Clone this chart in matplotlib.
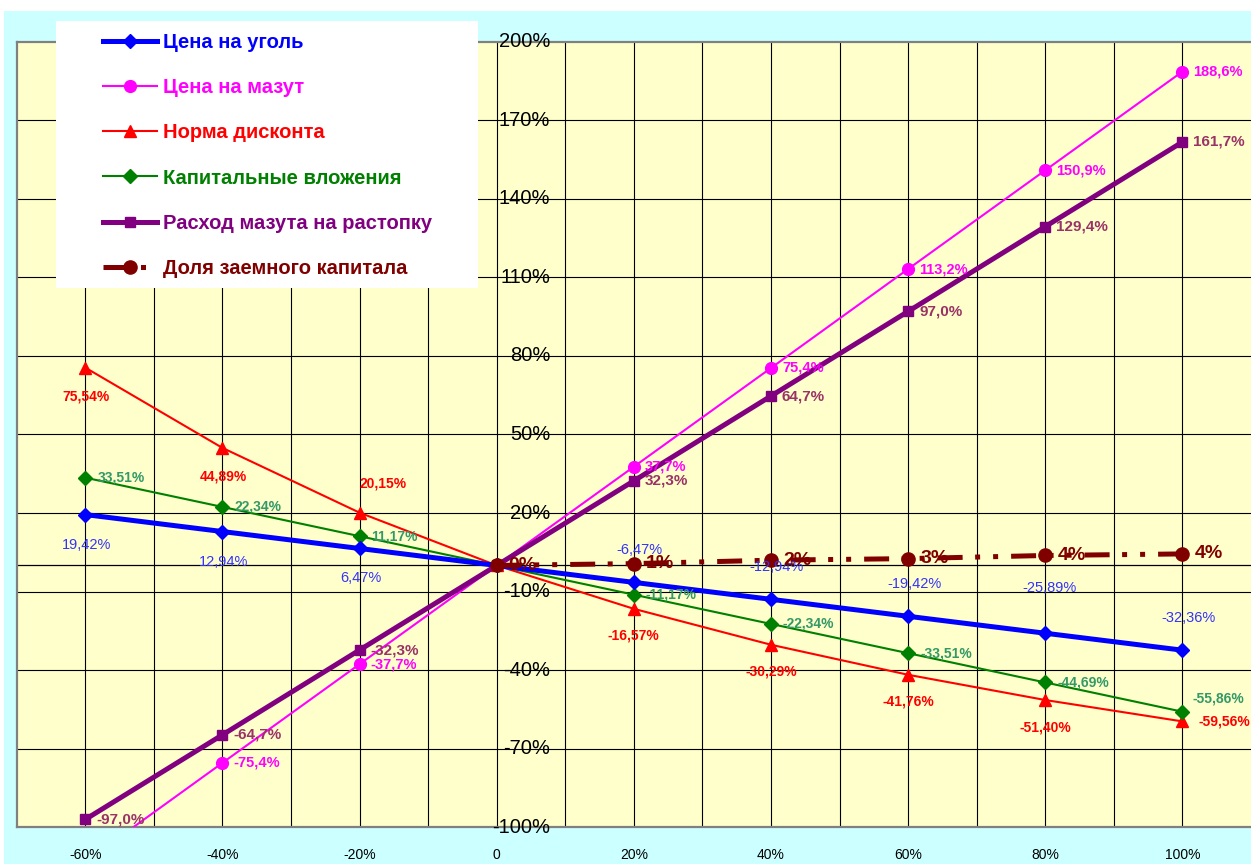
import matplotlib
matplotlib.use("Agg")
import matplotlib.pyplot as plt
from matplotlib.patches import Rectangle

plt.rcParams['font.family'] = ['Liberation Sans', 'DejaVu Sans']

# Change of the input parameter, %
changes = [-60, -40, -20, 0, 20, 40, 60, 80, 100]

# Resulting change of the indicator, %
coal_price = [19.42, 12.94, 6.47, 0.0, -6.47, -12.94, -19.42, -25.89, -32.36]
fuel_oil_price = [-113.2, -75.4, -37.7, 0.0, 37.7, 75.4, 113.2, 150.9, 188.6]
discount_rate = [75.54, 44.89, 20.15, 0.0, -16.57, -30.29, -41.76, -51.40, -59.56]
capital_invest = [33.51, 22.34, 11.17, 0.0, -11.17, -22.34, -33.51, -44.69, -55.86]
kindling_oil = [-97.0, -64.7, -32.3, 0.0, 32.3, 64.7, 97.0, 129.4, 161.7]
debt_share = [None, None, None, 0.0, 0.7, 2.0, 2.6, 3.8, 4.4]

series_names = [
    "Цена на уголь",
    "Цена на мазут",
    "Норма дисконта",
    "Капитальные вложения",
    "Расход мазута на растопку",
    "Доля заемного капитала",
]

x_ticks = [-60, -40, -20, 0, 20, 40, 60, 80, 100]
x_ticklabels = ["-60%", "-40%", "-20%", "0", "20%", "40%", "60%", "80%", "100%"]
y_ticks = [200, 170, 140, 110, 80, 50, 20, -10, -40, -70, -100]
y_ticklabels = ["200%", "170%", "140%", "110%", "80%", "50%", "20%",
                "-10%", "-40%", "-70%", "-100%"]

W, H = 1251, 864
fig = plt.figure(figsize=(W / 100, H / 100), dpi=100)
fig.patch.set_facecolor("#CCFFFF")
# white margins at the top and left edges
fig.patches.append(Rectangle((0, 1 - 11 / H), 1, 11 / H, transform=fig.transFigure,
                             facecolor="white", edgecolor="none", zorder=0))
fig.patches.append(Rectangle((0, 0), 4 / W, 1, transform=fig.transFigure,
                             facecolor="white", edgecolor="none", zorder=0))

ax_left, ax_right = 16.7, 1251.0
ax_top, ax_bottom = 41.7, 827.3
ax = fig.add_axes([ax_left / W, 1 - ax_bottom / H,
                   (ax_right - ax_left) / W, (ax_bottom - ax_top) / H])
ax.set_facecolor("#FFFFCC")
ax.set_xlim(-70, 110)
ax.set_ylim(-100, 200)

# grid
for gx in range(-60, 101, 10):
    ax.axvline(gx, color="black", lw=0.8, zorder=1)
for gy in range(-70, 200, 30):
    ax.axhline(gy, color="black", lw=0.8, zorder=1)
ax.axhline(0, color="black", lw=0.9, zorder=1)

for side in ["left", "top", "bottom"]:
    ax.spines[side].set_color("#808080")
    ax.spines[side].set_linewidth(1.6)
ax.spines["right"].set_visible(False)

ax.set_xticks(x_ticks)
ax.set_xticklabels(x_ticklabels, fontsize=10)
ax.tick_params(axis="x", length=0, pad=15)
ax.set_yticks([])
for yv, yl in zip(y_ticks, y_ticklabels):
    ax.text(7.8, yv, yl, ha="right", va="center", fontsize=14.5, color="black",
            zorder=6)


def fmt(v, nd):
    return (f"{v:.{nd}f}%").replace(".", ",")


def plot_series(values, label, color, lw, marker, ms, label_color, nd, fsize,
                weight, offsets, dashes=None, z=3):
    xs = [x for x, v in zip(changes, values) if v is not None]
    ys = [v for v in values if v is not None]
    kw = {}
    if dashes is not None:
        kw["dashes"] = dashes
    line, = ax.plot(xs, ys, color=color, lw=lw, marker=marker, ms=ms,
                    markeredgecolor=color, markerfacecolor=color, label=label,
                    zorder=z, **kw)
    for x, y in zip(xs, ys):
        if x == 0 and nd != 0:
            continue
        if y < -100 or y > 200:
            continue
        dx, dy, ha = offsets(x)
        ax.annotate(fmt(y, nd), (x, y), xytext=(dx, dy), textcoords="offset pixels",
                    ha=ha, va="center", fontsize=fsize, color=label_color,
                    fontweight=weight, zorder=7, annotation_clip=False)
    return line


def coal_off(x):
    if x < 0:
        return (1, -30, "center")
    if x == 80:
        return (4, 45, "center")
    return (6, 32, "center")


def disc_off(x):
    if x == -20:
        return (24, 29, "center")
    if x == 100:
        return (16, 0, "left")
    if x < 0:
        return (1, -29, "center")
    return (0, -27, "center")


def cap_off(x):
    if x == 100:
        return (10, 13, "left")
    return (12, 0, "left")


def right_off(x):
    return (11, 0, "left")


def debt_off(x):
    return (12, 0, "left")


h1 = plot_series(coal_price, series_names[0], "#0000FF", 3.6, "D", 7.5,
                 "#3333FF", 2, 10.5, "normal", coal_off, z=4)
h2 = plot_series(fuel_oil_price, series_names[1], "#FF00FF", 1.5, "o", 8.5,
                 "#FF00FF", 1, 10.5, "bold", right_off, z=3)
h3 = plot_series(discount_rate, series_names[2], "#FF0000", 1.5, "^", 8.5,
                 "#FF0000", 2, 10, "bold", disc_off, z=3)
h4 = plot_series(capital_invest, series_names[3], "#008000", 1.5, "D", 7,
                 "#339966", 2, 10, "bold", cap_off, z=3)
h5 = plot_series(kindling_oil, series_names[4], "#800080", 3.6, "s", 7.5,
                 "#993366", 1, 11, "bold", right_off, z=4)
h6 = plot_series(debt_share, series_names[5], "#800000", 3.6, "o", 9.5,
                 "#800000", 0, 14, "bold", debt_off,
                 dashes=(5, 2.5, 1, 2.6, 1, 2.6), z=5)

# legend panel
fig.patches.append(Rectangle((56 / W, 1 - 288 / H), (478 - 56) / W, (288 - 21) / H,
                             transform=fig.transFigure, facecolor="white",
                             edgecolor="none", zorder=2))
leg = fig.legend(handles=[h1, h2, h3, h4, h5, h6], loc="upper left",
                 bbox_to_anchor=(103 / W, 1 - 33 / H), frameon=False,
                 borderpad=0, borderaxespad=0, handlelength=2.68,
                 handletextpad=0.3, labelspacing=1.3,
                 prop={"size": 14.5, "weight": "bold"})
leg.set_zorder(6)
for txt, h in zip(leg.get_texts(), [h1, h2, h3, h4, h5, h6]):
    txt.set_color(h.get_color())

fig.savefig("out.png", dpi=100, facecolor=fig.get_facecolor())
